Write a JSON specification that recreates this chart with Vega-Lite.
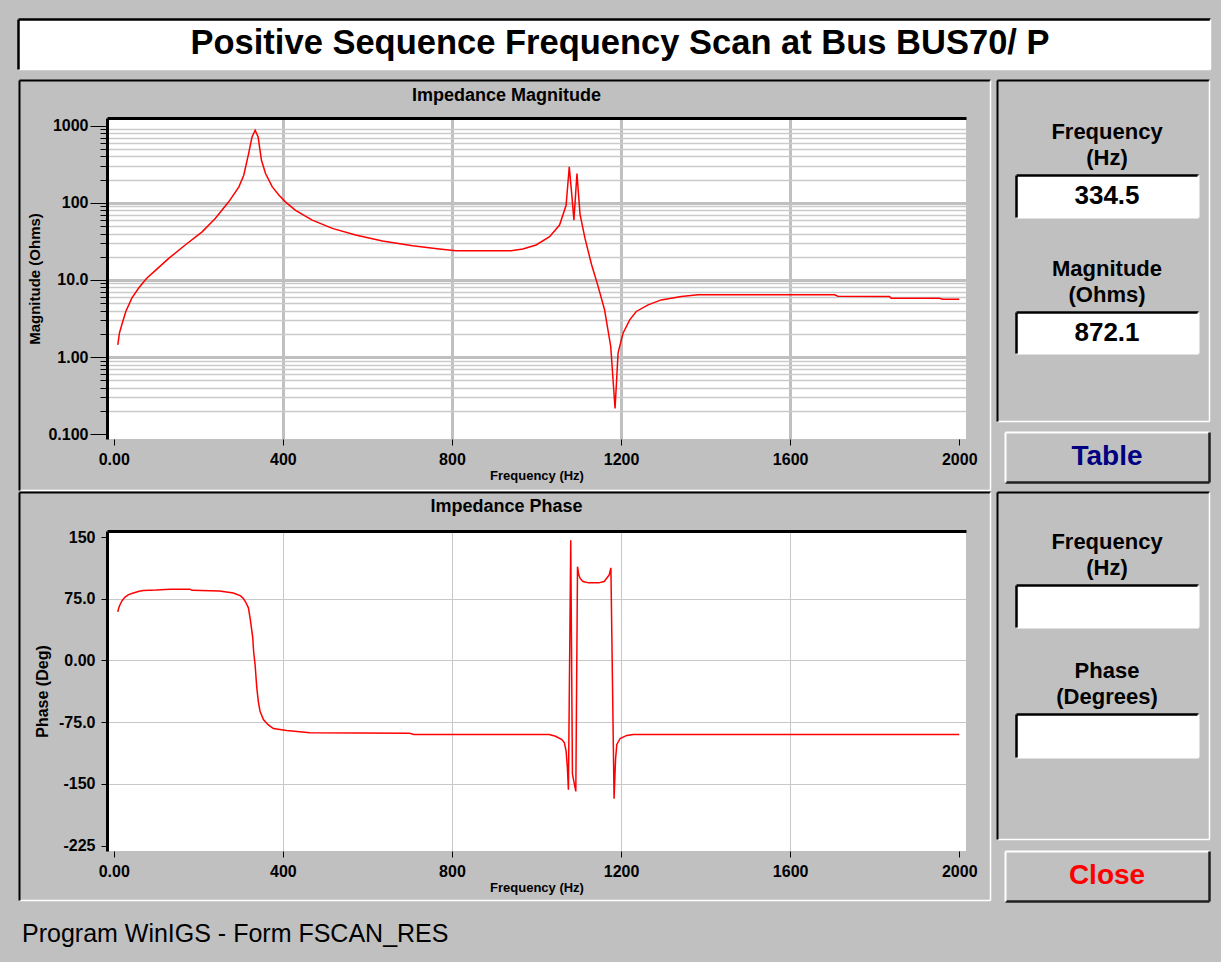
{
  "$schema": "https://vega.github.io/schema/vega-lite/v6.json",
  "background": "#c0c0c0",
  "padding": {"left": 18, "top": 19, "right": 11, "bottom": 15},
  "config": {
    "font": "Liberation Sans",
    "view": {"stroke": null},
    "axis": {
      "labelFont": "Liberation Sans",
      "labelFontWeight": "bold",
      "labelFontSize": 16,
      "labelColor": "#000000",
      "tickColor": "#000000",
      "titleColor": "#000000",
      "titleFont": "Liberation Sans",
      "titleFontWeight": "bold",
      "labelFlush": false,
      "labelOverlap": false,
      "labelBound": false
    },
    "title": {"color": "#000000", "font": "Liberation Sans"}
  },
  "datasets": {
    "blank": [{"v": ""}],
    "mag": [
      {"f": 9.5, "mag": 1.44}, {"f": 13.4, "mag": 2.04}, {"f": 19, "mag": 2.62}, {"f": 28.5, "mag": 3.9},
      {"f": 42.7, "mag": 5.8}, {"f": 58.5, "mag": 7.8}, {"f": 78, "mag": 10.5}, {"f": 98, "mag": 13.2},
      {"f": 130, "mag": 19}, {"f": 169, "mag": 28.4}, {"f": 209, "mag": 42}, {"f": 240, "mag": 62.7},
      {"f": 272, "mag": 103}, {"f": 296, "mag": 161}, {"f": 307.5, "mag": 228}, {"f": 319, "mag": 434},
      {"f": 327, "mag": 713}, {"f": 334.5, "mag": 872.1}, {"f": 341.5, "mag": 713}, {"f": 349.4, "mag": 356},
      {"f": 359, "mag": 240}, {"f": 375, "mag": 161}, {"f": 390.5, "mag": 126}, {"f": 406, "mag": 103},
      {"f": 430, "mag": 80}, {"f": 469.6, "mag": 59.7}, {"f": 517, "mag": 46.6}, {"f": 572, "mag": 38.2},
      {"f": 635.6, "mag": 31.9}, {"f": 707, "mag": 27.8}, {"f": 770, "mag": 25.2}, {"f": 809.5, "mag": 23.9},
      {"f": 940, "mag": 23.9}, {"f": 967.6, "mag": 25.2}, {"f": 999, "mag": 28.4}, {"f": 1031, "mag": 36.3},
      {"f": 1054.5, "mag": 51.4}, {"f": 1070, "mag": 93}, {"f": 1077.5, "mag": 292}, {"f": 1084.6, "mag": 108},
      {"f": 1088.5, "mag": 59.7}, {"f": 1095.7, "mag": 240}, {"f": 1103, "mag": 71}, {"f": 1115, "mag": 34},
      {"f": 1130, "mag": 16}, {"f": 1145, "mag": 8.5}, {"f": 1161, "mag": 4.1}, {"f": 1175.6, "mag": 1.37},
      {"f": 1185.8, "mag": 0.215}, {"f": 1193, "mag": 1.13}, {"f": 1204.7, "mag": 2.04}, {"f": 1220.5, "mag": 3.04},
      {"f": 1236, "mag": 3.9}, {"f": 1264, "mag": 4.75}, {"f": 1295, "mag": 5.51}, {"f": 1342.6, "mag": 6.09},
      {"f": 1382, "mag": 6.4}, {"f": 1705, "mag": 6.4}, {"f": 1713, "mag": 6.15}, {"f": 1835, "mag": 6.09},
      {"f": 1839, "mag": 5.8}, {"f": 1953, "mag": 5.8}, {"f": 1961, "mag": 5.62}, {"f": 2000, "mag": 5.62}
    ],
    "phase": [
      {"f": 9.4, "ph": 59}, {"f": 12, "ph": 64}, {"f": 15, "ph": 68}, {"f": 20, "ph": 73}, {"f": 26.7, "ph": 77},
      {"f": 35, "ph": 80}, {"f": 46.5, "ph": 82}, {"f": 60, "ph": 84}, {"f": 70, "ph": 85}, {"f": 100, "ph": 85.5},
      {"f": 133, "ph": 86.6}, {"f": 180, "ph": 86.6}, {"f": 185, "ph": 85.2}, {"f": 250, "ph": 84.5},
      {"f": 283, "ph": 82}, {"f": 300, "ph": 78.5}, {"f": 306.6, "ph": 75.3}, {"f": 312, "ph": 71},
      {"f": 318.5, "ph": 64}, {"f": 323, "ph": 50}, {"f": 328.8, "ph": 27.5}, {"f": 331, "ph": 10},
      {"f": 334.3, "ph": -5}, {"f": 338.3, "ph": -33}, {"f": 342, "ph": -50}, {"f": 346, "ph": -61.6},
      {"f": 354, "ph": -71.7}, {"f": 365, "ph": -78}, {"f": 377.6, "ph": -82.6}, {"f": 409, "ph": -85},
      {"f": 464, "ph": -87.9}, {"f": 700, "ph": -88.5}, {"f": 710, "ph": -89.8}, {"f": 1030, "ph": -90},
      {"f": 1045, "ph": -92}, {"f": 1060, "ph": -96}, {"f": 1066, "ph": -100}, {"f": 1070, "ph": -110},
      {"f": 1073, "ph": -130}, {"f": 1075.5, "ph": -157}, {"f": 1081, "ph": 146}, {"f": 1085, "ph": -138},
      {"f": 1093, "ph": -159}, {"f": 1097, "ph": 114}, {"f": 1100, "ph": 104}, {"f": 1103, "ph": 100},
      {"f": 1110, "ph": 96}, {"f": 1123, "ph": 94.3}, {"f": 1146.5, "ph": 94.3}, {"f": 1160, "ph": 96},
      {"f": 1166, "ph": 100}, {"f": 1172, "ph": 104}, {"f": 1176, "ph": 112.5}, {"f": 1183.5, "ph": -168},
      {"f": 1187, "ph": -120}, {"f": 1190, "ph": -102}, {"f": 1197.8, "ph": -94.7}, {"f": 1213.6, "ph": -91},
      {"f": 1229, "ph": -90}, {"f": 2000, "ph": -90}
    ]
  },
  "title": {
    "text": "Program WinIGS - Form FSCAN_RES",
    "orient": "bottom",
    "anchor": "start",
    "fontSize": 25,
    "fontWeight": "normal",
    "offset": 21,
    "dx": 4,
    "color": "#000000"
  },
  "bounds": "flush",
  "spacing": 0,
  "vconcat": [
    {
      "width": 1192,
      "height": 50,
      "data": {"values": [{"t": "Positive Sequence Frequency Scan at Bus BUS70/ P"}]},
      "view": {"fill": "#ffffff"},
      "resolve": {"axis": {"x": "independent", "y": "independent"}},
      "layer": [
        {"mark": {"type": "text", "fontSize": 34.5, "fontWeight": "bold", "color": "#000000", "dx": 6}, "encoding": {"text": {"field": "t"}}},
        {"mark": {"type": "text", "opacity": 0}, "encoding": {
          "x": {"datum": 0.5, "type": "quantitative", "scale": {"domain": [0, 1]}, "axis": {"orient": "top", "values": [0], "ticks": false, "labels": false, "grid": false, "title": null, "domainColor": "#000000", "domainWidth": 2.5}},
          "y": {"datum": 0.5, "type": "quantitative", "scale": {"domain": [0, 1]}, "axis": {"orient": "left", "values": [0], "ticks": false, "labels": false, "grid": false, "title": null, "domainColor": "#000000", "domainWidth": 2.5}}}},
        {"mark": {"type": "text", "opacity": 0}, "encoding": {
          "x": {"datum": 0.5, "type": "quantitative", "axis": {"orient": "bottom", "values": [0], "ticks": false, "labels": false, "grid": false, "title": null, "domainColor": "#ffffff", "domainWidth": 1.5}},
          "y": {"datum": 0.5, "type": "quantitative", "axis": {"orient": "right", "values": [0], "ticks": false, "labels": false, "grid": false, "title": null, "domainColor": "#ffffff", "domainWidth": 1.5}}}}
      ]
    },
    {"width": 1, "height": 11, "data": {"name": "blank"}, "mark": {"type": "text"}, "encoding": {"text": {"field": "v"}}},
    {
      "bounds": "flush",
      "spacing": 0,
      "hconcat": [
        {"width": 1, "height": 1, "data": {"name": "blank"}, "mark": {"type": "text"}, "encoding": {"text": {"field": "v"}}},
        {
          "width": 971, "height": 410, "data": {"name": "blank"},
          "resolve": {"axis": {"x": "independent", "y": "independent"}},
          "layer": [
            {"mark": {"type": "text"}, "encoding": {"text": {"field": "v"},
              "x": {"datum": 0.5, "type": "quantitative", "scale": {"domain": [0, 1]}, "axis": {"orient": "top", "values": [0], "ticks": false, "labels": false, "grid": false, "title": null, "domainColor": "#000000", "domainWidth": 2}},
              "y": {"datum": 0.5, "type": "quantitative", "scale": {"domain": [0, 1]}, "axis": {"orient": "left", "values": [0], "ticks": false, "labels": false, "grid": false, "title": null, "domainColor": "#000000", "domainWidth": 2}}}},
            {"mark": {"type": "text"}, "encoding": {"text": {"field": "v"},
              "x": {"datum": 0.5, "type": "quantitative", "axis": {"orient": "bottom", "values": [0], "ticks": false, "labels": false, "grid": false, "title": null, "domainColor": "#ffffff", "domainWidth": 1.5}},
              "y": {"datum": 0.5, "type": "quantitative", "axis": {"orient": "right", "values": [0], "ticks": false, "labels": false, "grid": false, "title": null, "domainColor": "#ffffff", "domainWidth": 1.5}}}}
          ]
        },
        {"width": 7, "height": 1, "data": {"name": "blank"}, "mark": {"type": "text"}, "encoding": {"text": {"field": "v"}}},
        {
          "width": 212, "height": 341, "data": {"name": "blank"},
          "resolve": {"axis": {"x": "independent", "y": "independent"}},
          "layer": [
            {"mark": {"type": "text"}, "encoding": {"text": {"field": "v"},
              "x": {"datum": 0.5, "type": "quantitative", "scale": {"domain": [0, 1]}, "axis": {"orient": "top", "values": [0], "ticks": false, "labels": false, "grid": false, "title": null, "domainColor": "#000000", "domainWidth": 2}},
              "y": {"datum": 0.5, "type": "quantitative", "scale": {"domain": [0, 1]}, "axis": {"orient": "left", "values": [0], "ticks": false, "labels": false, "grid": false, "title": null, "domainColor": "#000000", "domainWidth": 2}}}},
            {"mark": {"type": "text"}, "encoding": {"text": {"field": "v"},
              "x": {"datum": 0.5, "type": "quantitative", "axis": {"orient": "bottom", "values": [0], "ticks": false, "labels": false, "grid": false, "title": null, "domainColor": "#ffffff", "domainWidth": 1.5}},
              "y": {"datum": 0.5, "type": "quantitative", "axis": {"orient": "right", "values": [0], "ticks": false, "labels": false, "grid": false, "title": null, "domainColor": "#ffffff", "domainWidth": 1.5}}}}
          ]
        }
      ]
    },
    {"width": 1, "height": 38, "data": {"name": "blank"}, "mark": {"type": "text"}, "encoding": {"text": {"field": "v"}}},
    {
      "bounds": "flush",
      "spacing": 39,
      "hconcat": [
        {"width": 50, "height": 1, "data": {"name": "blank"}, "mark": {"type": "text"}, "encoding": {"text": {"field": "v"}}},
        {
          "width": 859,
          "height": 321,
          "title": {"text": "Impedance Magnitude", "fontSize": 18, "fontWeight": "bold", "offset": 13, "frame": "group", "anchor": "middle", "dx": -30},
          "data": {"name": "mag"},
          "view": {"fill": "#ffffff"},
          "resolve": {"axis": {"x": "independent", "y": "independent"}},
          "layer": [
            {
              "mark": {"type": "line", "opacity": 0},
              "encoding": {
                "x": {
                  "field": "f", "type": "quantitative",
                  "axis": {"orient": "top", "values": [0], "ticks": false, "labels": false, "grid": false, "domain": true, "domainColor": "#000000", "domainWidth": 3, "title": null}
                },
                "y": {
                  "field": "mag", "type": "quantitative",
                  "axis": {
                    "orient": "left",
                    "values": [0.2, 0.3, 0.4, 0.5, 0.6, 0.7, 0.8, 0.9, 2, 3, 4, 5, 6, 7, 8, 9, 20, 30, 40, 50, 60, 70, 80, 90, 200, 300, 400, 500, 600, 700, 800, 900],
                    "labels": false, "grid": true, "gridColor": "#cacaca", "gridWidth": 1.5,
                    "tickSize": 7, "tickColor": "#000000", "domain": false, "title": null
                  }
                }
              }
            },
            {
              "mark": {"type": "line", "color": "#ff0000", "strokeWidth": 1.5},
              "encoding": {
                "x": {
                  "field": "f", "type": "quantitative",
                  "scale": {"domain": [-16, 2016], "nice": false, "zero": false},
                  "axis": {
                    "orient": "bottom",
                    "values": [0, 400, 800, 1200, 1600, 2000],
                    "labelExpr": "datum.value == 0 ? '0.00' : format(datum.value, 'd')",
                    "grid": true, "gridColor": "#c0c0c0", "gridWidth": 3,
                    "gridOpacity": {"condition": {"test": "datum.value == 0 || datum.value == 2000", "value": 0}, "value": 1},
                    "tickSize": 6, "domain": false, "labelPadding": 6,
                    "title": "Frequency (Hz)", "titleFontSize": 13, "titlePadding": 2
                  }
                },
                "y": {
                  "field": "mag", "type": "quantitative",
                  "scale": {"type": "log", "domain": [0.0865, 1259], "nice": false},
                  "axis": {
                    "orient": "left",
                    "values": [0.1, 1, 10, 100, 1000],
                    "labelExpr": "datum.value >= 100 ? format(datum.value, 'd') : format(datum.value, '.3r')",
                    "grid": true, "gridColor": "#c0c0c0", "gridWidth": 3,
                    "gridOpacity": {"condition": {"test": "datum.value < 0.5 || datum.value > 500", "value": 0}, "value": 1},
                    "tickSize": 17, "domain": true, "domainColor": "#000000", "domainWidth": 3,
                    "labelPadding": 2,
                    "title": "Magnitude (Ohms)", "titleFontSize": 15, "titlePadding": 5
                  }
                }
              }
            }
          ]
        },
        {
          "bounds": "flush",
          "spacing": 0,
          "center": true,
          "vconcat": [
            {"width": 204, "height": 57, "data": {"name": "blank"}, "mark": {"type": "text"}, "encoding": {"text": {"field": "v"}}},
            {
              "width": 182, "height": 42,
              "title": {"text": ["Frequency", "(Hz)"], "fontSize": 22, "fontWeight": "bold", "lineHeight": 26, "offset": 5, "anchor": "middle", "frame": "group"},
              "data": {"values": [{"v": "334.5"}]},
              "view": {"fill": "#ffffff"},
              "resolve": {"axis": {"x": "independent", "y": "independent"}},
              "layer": [
                {"mark": {"type": "text", "fontSize": 26, "fontWeight": "bold", "color": "#000000"}, "encoding": {"text": {"field": "v"}}},
                {"mark": {"type": "text", "opacity": 0}, "encoding": {
                  "x": {"datum": 0.5, "type": "quantitative", "scale": {"domain": [0, 1]}, "axis": {"orient": "top", "values": [0], "ticks": false, "labels": false, "grid": false, "title": null, "domainColor": "#000000", "domainWidth": 2.5}},
                  "y": {"datum": 0.5, "type": "quantitative", "scale": {"domain": [0, 1]}, "axis": {"orient": "left", "values": [0], "ticks": false, "labels": false, "grid": false, "title": null, "domainColor": "#000000", "domainWidth": 2.5}}}},
                {"mark": {"type": "text", "opacity": 0}, "encoding": {
                  "x": {"datum": 0.5, "type": "quantitative", "axis": {"orient": "bottom", "values": [0], "ticks": false, "labels": false, "grid": false, "title": null, "domainColor": "#ffffff", "domainWidth": 2}},
                  "y": {"datum": 0.5, "type": "quantitative", "axis": {"orient": "right", "values": [0], "ticks": false, "labels": false, "grid": false, "title": null, "domainColor": "#ffffff", "domainWidth": 2}}}}
              ]
            },
            {"width": 204, "height": 95, "data": {"name": "blank"}, "mark": {"type": "text"}, "encoding": {"text": {"field": "v"}}},
            {
              "width": 182, "height": 41,
              "title": {"text": ["Magnitude", "(Ohms)"], "fontSize": 22, "fontWeight": "bold", "lineHeight": 26, "offset": 5, "anchor": "middle", "frame": "group"},
              "data": {"values": [{"v": "872.1"}]},
              "view": {"fill": "#ffffff"},
              "resolve": {"axis": {"x": "independent", "y": "independent"}},
              "layer": [
                {"mark": {"type": "text", "fontSize": 26, "fontWeight": "bold", "color": "#000000"}, "encoding": {"text": {"field": "v"}}},
                {"mark": {"type": "text", "opacity": 0}, "encoding": {
                  "x": {"datum": 0.5, "type": "quantitative", "scale": {"domain": [0, 1]}, "axis": {"orient": "top", "values": [0], "ticks": false, "labels": false, "grid": false, "title": null, "domainColor": "#000000", "domainWidth": 2.5}},
                  "y": {"datum": 0.5, "type": "quantitative", "scale": {"domain": [0, 1]}, "axis": {"orient": "left", "values": [0], "ticks": false, "labels": false, "grid": false, "title": null, "domainColor": "#000000", "domainWidth": 2.5}}}},
                {"mark": {"type": "text", "opacity": 0}, "encoding": {
                  "x": {"datum": 0.5, "type": "quantitative", "axis": {"orient": "bottom", "values": [0], "ticks": false, "labels": false, "grid": false, "title": null, "domainColor": "#ffffff", "domainWidth": 2}},
                  "y": {"datum": 0.5, "type": "quantitative", "axis": {"orient": "right", "values": [0], "ticks": false, "labels": false, "grid": false, "title": null, "domainColor": "#ffffff", "domainWidth": 2}}}}
              ]
            },
            {"width": 204, "height": 79, "data": {"name": "blank"}, "mark": {"type": "text"}, "encoding": {"text": {"field": "v"}}},
            {
              "width": 204, "height": 50,
              "data": {"values": [{"v": "Table"}]},
              "resolve": {"axis": {"x": "independent", "y": "independent"}},
              "layer": [
                {"mark": {"type": "text", "fontSize": 28, "fontWeight": "bold", "color": "#000080"}, "encoding": {"text": {"field": "v"}}},
                {"mark": {"type": "text", "opacity": 0}, "encoding": {
                  "x": {"datum": 0.5, "type": "quantitative", "scale": {"domain": [0, 1]}, "axis": {"orient": "top", "values": [0], "ticks": false, "labels": false, "grid": false, "title": null, "domainColor": "#ffffff", "domainWidth": 2}},
                  "y": {"datum": 0.5, "type": "quantitative", "scale": {"domain": [0, 1]}, "axis": {"orient": "left", "values": [0], "ticks": false, "labels": false, "grid": false, "title": null, "domainColor": "#ffffff", "domainWidth": 2}}}},
                {"mark": {"type": "text", "opacity": 0}, "encoding": {
                  "x": {"datum": 0.5, "type": "quantitative", "axis": {"orient": "bottom", "values": [0], "ticks": false, "labels": false, "grid": false, "title": null, "domainColor": "#202020", "domainWidth": 2.5}},
                  "y": {"datum": 0.5, "type": "quantitative", "axis": {"orient": "right", "values": [0], "ticks": false, "labels": false, "grid": false, "title": null, "domainColor": "#202020", "domainWidth": 2.5}}}}
              ]
            }
          ]
        }
      ]
    },
    {"width": 1, "height": 374, "data": {"name": "blank"}, "mark": {"type": "text"}, "encoding": {"text": {"field": "v"}}},
    {
      "bounds": "flush",
      "spacing": 0,
      "hconcat": [
        {"width": 1, "height": 1, "data": {"name": "blank"}, "mark": {"type": "text"}, "encoding": {"text": {"field": "v"}}},
        {
          "width": 971, "height": 408, "data": {"name": "blank"},
          "resolve": {"axis": {"x": "independent", "y": "independent"}},
          "layer": [
            {"mark": {"type": "text"}, "encoding": {"text": {"field": "v"},
              "x": {"datum": 0.5, "type": "quantitative", "scale": {"domain": [0, 1]}, "axis": {"orient": "top", "values": [0], "ticks": false, "labels": false, "grid": false, "title": null, "domainColor": "#000000", "domainWidth": 2}},
              "y": {"datum": 0.5, "type": "quantitative", "scale": {"domain": [0, 1]}, "axis": {"orient": "left", "values": [0], "ticks": false, "labels": false, "grid": false, "title": null, "domainColor": "#000000", "domainWidth": 2}}}},
            {"mark": {"type": "text"}, "encoding": {"text": {"field": "v"},
              "x": {"datum": 0.5, "type": "quantitative", "axis": {"orient": "bottom", "values": [0], "ticks": false, "labels": false, "grid": false, "title": null, "domainColor": "#ffffff", "domainWidth": 1.5}},
              "y": {"datum": 0.5, "type": "quantitative", "axis": {"orient": "right", "values": [0], "ticks": false, "labels": false, "grid": false, "title": null, "domainColor": "#ffffff", "domainWidth": 1.5}}}}
          ]
        },
        {"width": 7, "height": 1, "data": {"name": "blank"}, "mark": {"type": "text"}, "encoding": {"text": {"field": "v"}}},
        {
          "width": 212, "height": 347, "data": {"name": "blank"},
          "resolve": {"axis": {"x": "independent", "y": "independent"}},
          "layer": [
            {"mark": {"type": "text"}, "encoding": {"text": {"field": "v"},
              "x": {"datum": 0.5, "type": "quantitative", "scale": {"domain": [0, 1]}, "axis": {"orient": "top", "values": [0], "ticks": false, "labels": false, "grid": false, "title": null, "domainColor": "#000000", "domainWidth": 2}},
              "y": {"datum": 0.5, "type": "quantitative", "scale": {"domain": [0, 1]}, "axis": {"orient": "left", "values": [0], "ticks": false, "labels": false, "grid": false, "title": null, "domainColor": "#000000", "domainWidth": 2}}}},
            {"mark": {"type": "text"}, "encoding": {"text": {"field": "v"},
              "x": {"datum": 0.5, "type": "quantitative", "axis": {"orient": "bottom", "values": [0], "ticks": false, "labels": false, "grid": false, "title": null, "domainColor": "#ffffff", "domainWidth": 1.5}},
              "y": {"datum": 0.5, "type": "quantitative", "axis": {"orient": "right", "values": [0], "ticks": false, "labels": false, "grid": false, "title": null, "domainColor": "#ffffff", "domainWidth": 1.5}}}}
          ]
        }
      ]
    },
    {"width": 1, "height": 39, "data": {"name": "blank"}, "mark": {"type": "text"}, "encoding": {"text": {"field": "v"}}},
    {
      "bounds": "flush",
      "spacing": 39,
      "hconcat": [
        {"width": 50, "height": 1, "data": {"name": "blank"}, "mark": {"type": "text"}, "encoding": {"text": {"field": "v"}}},
        {
          "width": 859,
          "height": 320,
          "title": {"text": "Impedance Phase", "fontSize": 18, "fontWeight": "bold", "offset": 13, "frame": "group", "anchor": "middle", "dx": -30},
          "data": {"name": "phase"},
          "view": {"fill": "#ffffff"},
          "resolve": {"axis": {"x": "independent", "y": "independent"}},
          "layer": [
            {
              "mark": {"type": "line", "opacity": 0},
              "encoding": {
                "x": {
                  "field": "f", "type": "quantitative",
                  "axis": {"orient": "top", "values": [0], "ticks": false, "labels": false, "grid": false, "domain": true, "domainColor": "#000000", "domainWidth": 3, "title": null}
                },
                "y": {"field": "ph", "type": "quantitative", "axis": null}
              }
            },
            {
              "mark": {"type": "line", "color": "#ff0000", "strokeWidth": 1.5},
              "encoding": {
                "x": {
                  "field": "f", "type": "quantitative",
                  "scale": {"domain": [-16, 2016], "nice": false, "zero": false},
                  "axis": {
                    "orient": "bottom",
                    "values": [0, 400, 800, 1200, 1600, 2000],
                    "labelExpr": "datum.value == 0 ? '0.00' : format(datum.value, 'd')",
                    "grid": true, "gridColor": "#c8c8c8", "gridWidth": 1,
                    "gridOpacity": {"condition": {"test": "datum.value == 0 || datum.value == 2000", "value": 0}, "value": 1},
                    "tickSize": 6, "domain": false, "labelPadding": 6,
                    "title": "Frequency (Hz)", "titleFontSize": 13, "titlePadding": 2
                  }
                },
                "y": {
                  "field": "ph", "type": "quantitative",
                  "scale": {"domain": [-231.4, 157.3], "nice": false, "zero": false},
                  "axis": {
                    "orient": "left",
                    "values": [150, 75, 0, -75, -150, -225],
                    "labelExpr": "(datum.value < 0 ? '-' : '') + (datum.value == 0 ? '0.00' : (abs(datum.value) == 75 ? format(abs(datum.value), '.1f') : format(abs(datum.value), 'd')))",
                    "grid": true, "gridColor": "#c8c8c8", "gridWidth": 1,
                    "gridOpacity": {"condition": {"test": "datum.value == 150 || datum.value == -225", "value": 0}, "value": 1},
                    "tickSize": 6, "domain": true, "domainColor": "#000000", "domainWidth": 3,
                    "labelPadding": 6,
                    "title": "Phase (Deg)", "titleFontSize": 16, "titlePadding": 8
                  }
                }
              }
            }
          ]
        },
        {
          "bounds": "flush",
          "spacing": 0,
          "center": true,
          "vconcat": [
            {"width": 204, "height": 54, "data": {"name": "blank"}, "mark": {"type": "text"}, "encoding": {"text": {"field": "v"}}},
            {
              "width": 182, "height": 42,
              "title": {"text": ["Frequency", "(Hz)"], "fontSize": 22, "fontWeight": "bold", "lineHeight": 26, "offset": 5, "anchor": "middle", "frame": "group"},
              "data": {"name": "blank"},
              "view": {"fill": "#ffffff"},
              "resolve": {"axis": {"x": "independent", "y": "independent"}},
              "layer": [
                {"mark": {"type": "text"}, "encoding": {"text": {"field": "v"},
                  "x": {"datum": 0.5, "type": "quantitative", "scale": {"domain": [0, 1]}, "axis": {"orient": "top", "values": [0], "ticks": false, "labels": false, "grid": false, "title": null, "domainColor": "#000000", "domainWidth": 2.5}},
                  "y": {"datum": 0.5, "type": "quantitative", "scale": {"domain": [0, 1]}, "axis": {"orient": "left", "values": [0], "ticks": false, "labels": false, "grid": false, "title": null, "domainColor": "#000000", "domainWidth": 2.5}}}},
                {"mark": {"type": "text"}, "encoding": {"text": {"field": "v"},
                  "x": {"datum": 0.5, "type": "quantitative", "axis": {"orient": "bottom", "values": [0], "ticks": false, "labels": false, "grid": false, "title": null, "domainColor": "#ffffff", "domainWidth": 2}},
                  "y": {"datum": 0.5, "type": "quantitative", "axis": {"orient": "right", "values": [0], "ticks": false, "labels": false, "grid": false, "title": null, "domainColor": "#ffffff", "domainWidth": 2}}}}
              ]
            },
            {"width": 204, "height": 87, "data": {"name": "blank"}, "mark": {"type": "text"}, "encoding": {"text": {"field": "v"}}},
            {
              "width": 182, "height": 43,
              "title": {"text": ["Phase", "(Degrees)"], "fontSize": 22, "fontWeight": "bold", "lineHeight": 26, "offset": 5, "anchor": "middle", "frame": "group"},
              "data": {"name": "blank"},
              "view": {"fill": "#ffffff"},
              "resolve": {"axis": {"x": "independent", "y": "independent"}},
              "layer": [
                {"mark": {"type": "text"}, "encoding": {"text": {"field": "v"},
                  "x": {"datum": 0.5, "type": "quantitative", "scale": {"domain": [0, 1]}, "axis": {"orient": "top", "values": [0], "ticks": false, "labels": false, "grid": false, "title": null, "domainColor": "#000000", "domainWidth": 2.5}},
                  "y": {"datum": 0.5, "type": "quantitative", "scale": {"domain": [0, 1]}, "axis": {"orient": "left", "values": [0], "ticks": false, "labels": false, "grid": false, "title": null, "domainColor": "#000000", "domainWidth": 2.5}}}},
                {"mark": {"type": "text"}, "encoding": {"text": {"field": "v"},
                  "x": {"datum": 0.5, "type": "quantitative", "axis": {"orient": "bottom", "values": [0], "ticks": false, "labels": false, "grid": false, "title": null, "domainColor": "#ffffff", "domainWidth": 2}},
                  "y": {"datum": 0.5, "type": "quantitative", "axis": {"orient": "right", "values": [0], "ticks": false, "labels": false, "grid": false, "title": null, "domainColor": "#ffffff", "domainWidth": 2}}}}
              ]
            },
            {"width": 204, "height": 94, "data": {"name": "blank"}, "mark": {"type": "text"}, "encoding": {"text": {"field": "v"}}},
            {
              "width": 204, "height": 50,
              "data": {"values": [{"v": "Close"}]},
              "resolve": {"axis": {"x": "independent", "y": "independent"}},
              "layer": [
                {"mark": {"type": "text", "fontSize": 28, "fontWeight": "bold", "color": "#ff0000"}, "encoding": {"text": {"field": "v"}}},
                {"mark": {"type": "text", "opacity": 0}, "encoding": {
                  "x": {"datum": 0.5, "type": "quantitative", "scale": {"domain": [0, 1]}, "axis": {"orient": "top", "values": [0], "ticks": false, "labels": false, "grid": false, "title": null, "domainColor": "#ffffff", "domainWidth": 2}},
                  "y": {"datum": 0.5, "type": "quantitative", "scale": {"domain": [0, 1]}, "axis": {"orient": "left", "values": [0], "ticks": false, "labels": false, "grid": false, "title": null, "domainColor": "#ffffff", "domainWidth": 2}}}},
                {"mark": {"type": "text", "opacity": 0}, "encoding": {
                  "x": {"datum": 0.5, "type": "quantitative", "axis": {"orient": "bottom", "values": [0], "ticks": false, "labels": false, "grid": false, "title": null, "domainColor": "#202020", "domainWidth": 2.5}},
                  "y": {"datum": 0.5, "type": "quantitative", "axis": {"orient": "right", "values": [0], "ticks": false, "labels": false, "grid": false, "title": null, "domainColor": "#202020", "domainWidth": 2.5}}}}
              ]
            }
          ]
        }
      ]
    }
  ]
}
